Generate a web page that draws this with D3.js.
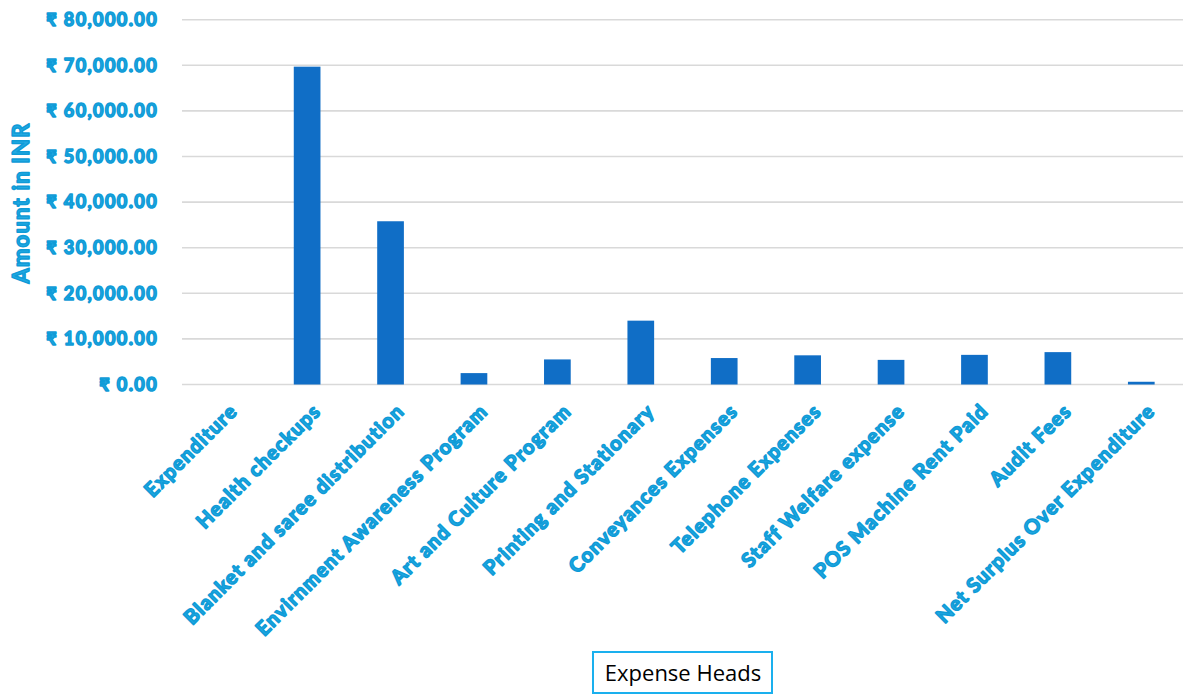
<!DOCTYPE html>
<html>
<head>
<meta charset="utf-8">
<script src="https://cdn.jsdelivr.net/npm/d3@7"></script>
<style>
  html, body { margin: 0; padding: 0; background: #ffffff; }
  svg { display: block; }
</style>
</head>
<body>
<svg id="chart" width="1187" height="696"></svg>
<script>
const categories = [
  "Expenditure",
  "Health checkups",
  "Blanket and saree distribution",
  "Envirnment Awareness Program",
  "Art and Culture Program",
  "Printing and Stationary",
  "Conveyances Expenses",
  "Telephone Expenses",
  "Staff Welfare expense",
  "POS Machine Rent Paid",
  "Audit Fees",
  "Net Surplus Over Expenditure"
];
const amounts = [0, 69700, 35800, 2500, 5500, 14000, 5800, 6400, 5400, 6500, 7100, 600];
const yTicks = [0, 10000, 20000, 30000, 40000, 50000, 60000, 70000, 80000];
const yTitle = "Amount in INR";
const xTitle = "Expense Heads";

const svg = d3.select("#chart");
const plotLeft = 182, plotRight = 1183, plotTop = 19.7, plotBottom = 384.5;
const labelFill = "#22a9e2", labelStroke = "#0f9bd7";
const labelFont = "Lato, 'Noto Sans', sans-serif";

const x = d3.scaleBand().domain(categories).range([plotLeft, plotRight])
  .paddingInner(0.68).paddingOuter(0.34);
const y = d3.scaleLinear().domain([0, 80000]).range([plotBottom, plotTop]);

const fmt = v => "\u20B9 " + d3.format(",.2f")(v);

// gridlines
svg.append("g").selectAll("line").data(yTicks).join("line")
  .attr("x1", plotLeft).attr("x2", plotRight)
  .attr("y1", d => y(d)).attr("y2", d => y(d))
  .attr("stroke", "#d9d9d9").attr("stroke-width", 1.6);

// bars
svg.append("g").selectAll("rect").data(categories).join("rect")
  .attr("x", d => x(d))
  .attr("width", x.bandwidth())
  .attr("y", (d, i) => y(amounts[i]))
  .attr("height", (d, i) => y(0) - y(amounts[i]))
  .attr("fill", "#106ec6");

function styleLabel(sel, size, ls) {
  sel.attr("font-family", labelFont)
    .attr("font-weight", "bold")
    .attr("font-size", size)
    .attr("letter-spacing", ls)
    .attr("fill", labelFill)
    .attr("stroke", labelStroke)
    .attr("stroke-width", 1.5)
    .attr("stroke-linejoin", "round");
}

// y axis labels
const yAxis = d3.axisLeft(y).tickValues(yTicks).tickFormat(fmt).tickSize(0).tickPadding(0);
const yg = svg.append("g").attr("transform", "translate(158,0)").call(yAxis);
yg.select(".domain").remove();
styleLabel(yg.selectAll("text"), 18, 1.4);

// x axis labels
const xAxis = d3.axisBottom(x).tickSize(0).tickPadding(0);
const xg = svg.append("g").attr("transform", `translate(0,${plotBottom})`).call(xAxis);
xg.select(".domain").remove();
styleLabel(xg.selectAll("text"), 20, 1.2);
xg.selectAll("text")
  .attr("text-anchor", "end")
  .attr("y", 0).attr("dy", "0.35em")
  .attr("transform", "translate(10,23) rotate(-45)");

// y title
styleLabel(svg.append("text")
  .attr("transform", "translate(29,203) rotate(-90)")
  .attr("text-anchor", "middle")
  .text(yTitle), 22, 1.2);

// x title with box
svg.append("rect")
  .attr("x", 593).attr("y", 652).attr("width", 179).attr("height", 41)
  .attr("fill", "#ffffff").attr("stroke", "#1ab0ee").attr("stroke-width", 2);
svg.append("text")
  .attr("x", 683).attr("y", 673).attr("dy", "0.35em")
  .attr("text-anchor", "middle")
  .attr("font-family", "'Open Sans', sans-serif")
  .attr("font-size", 22)
  .attr("fill", "#000000")
  .text(xTitle);
</script>
</body>
</html>
